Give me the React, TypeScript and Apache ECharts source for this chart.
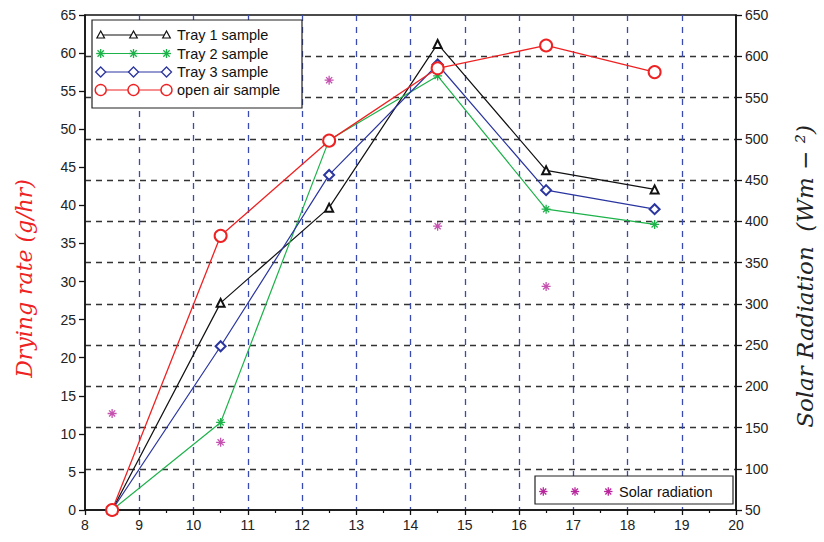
import React, { useEffect, useRef } from "react";
import * as echarts from "echarts";

const hours = [8.5, 10.5, 12.5, 14.5, 16.5, 18.5];
const tray1 = [0, 27.2, 39.7, 61.2, 44.6, 42.1];
const tray2 = [0, 11.5, 48.6, 57.0, 39.5, 37.5];
const tray3 = [0, 21.5, 44.0, 58.5, 42.0, 39.5];
const openAir = [0, 36.0, 48.5, 58.0, 61.0, 57.5];
const solarHours = [8.5, 10.5, 12.5, 14.5, 16.5];
const solar = [167, 132, 571, 394, 321];

const seriesNames = ["Tray 1 sample", "Tray 2 sample", "Tray 3 sample", "open air sample"];
const solarName = "Solar radiation";

const BLACK = "#111111";
const GREEN = "#1db24a";
const BLUE = "#2a35a0";
const RED = "#ee2222";
const MAGENTA = "#b8279c";

const ASTERISK = "path://M5,0L5,10M0,5L10,5M1.6,1.6L8.4,8.4M1.6,8.4L8.4,1.6";

const pairs = (xs: number[], ys: number[]) => xs.map((x, i) => [x, ys[i]]);

function asteriskGraphic(cx: number, cy: number, r: number, color: string) {
  const d = r * 0.707;
  const segs = [
    [0, -r, 0, r],
    [-r, 0, r, 0],
    [-d, -d, d, d],
    [-d, d, d, -d],
  ];
  return {
    type: "group",
    z: 101,
    children: segs.map((s) => ({
      type: "line",
      z: 101,
      shape: { x1: cx + s[0], y1: cy + s[1], x2: cx + s[2], y2: cy + s[3] },
      style: { stroke: color, lineWidth: 1.3 },
    })),
  };
}

function markerGraphic(kind: string, cx: number, cy: number) {
  if (kind === "tri") {
    return {
      type: "polygon",
      z: 101,
      shape: { points: [[cx, cy - 4], [cx - 3.8, cy + 3], [cx + 3.8, cy + 3]] },
      style: { fill: "#fff", stroke: BLACK, lineWidth: 1.2 },
    };
  }
  if (kind === "ast") return asteriskGraphic(cx, cy, 4.5, GREEN);
  if (kind === "dia") {
    return {
      type: "polygon",
      z: 101,
      shape: { points: [[cx, cy - 5], [cx + 5, cy], [cx, cy + 5], [cx - 5, cy]] },
      style: { fill: "#fff", stroke: BLUE, lineWidth: 1.3 },
    };
  }
  return {
    type: "circle",
    z: 101,
    shape: { cx, cy, r: 5.5 },
    style: { fill: "#fff", stroke: RED, lineWidth: 1.4 },
  };
}

export default function App() {
  const ref = useRef<HTMLDivElement>(null);

  useEffect(() => {
    document.body.style.margin = "0";
    if (!ref.current) return;
    const chart = echarts.init(ref.current, null, { renderer: "svg" });

    const labelFont = { fontFamily: "Liberation Sans, Arial, sans-serif", fontSize: 14, color: "#222" };

    const legendRows = [
      { name: seriesNames[0], color: BLACK, kind: "tri" },
      { name: seriesNames[1], color: GREEN, kind: "ast" },
      { name: seriesNames[2], color: BLUE, kind: "dia" },
      { name: seriesNames[3], color: RED, kind: "circ" },
    ];
    const rowY = [35, 53.5, 72, 90];
    const mx = [100.7, 133.5, 166.5];
    const legendEls: any[] = [
      {
        type: "rect",
        z: 100,
        shape: { x: 92, y: 20, width: 210, height: 88 },
        style: { fill: "#fff", stroke: "#222", lineWidth: 1.2 },
      },
    ];
    legendRows.forEach((r, i) => {
      const y = rowY[i];
      legendEls.push({
        type: "line",
        z: 101,
        shape: { x1: mx[0], y1: y, x2: mx[2], y2: y },
        style: { stroke: r.color, lineWidth: 1.2 },
      });
      mx.forEach((x) => legendEls.push(markerGraphic(r.kind, x, y)));
      legendEls.push({
        type: "text",
        z: 101,
        x: 177,
        y,
        style: {
          text: r.name,
          fill: "#111",
          font: "14.5px 'Liberation Sans', Arial, sans-serif",
          verticalAlign: "middle",
          align: "left",
        },
      });
    });
    legendEls.push({
      type: "rect",
      z: 100,
      shape: { x: 535, y: 476, width: 198, height: 28 },
      style: { fill: "#fff", stroke: "#222", lineWidth: 1.2 },
    });
    [543.3, 575, 608.3].forEach((x) => legendEls.push(asteriskGraphic(x, 491.5, 4.2, MAGENTA)));
    legendEls.push({
      type: "text",
      z: 101,
      x: 619,
      y: 491.5,
      style: {
        text: solarName,
        fill: "#111",
        font: "14.5px 'Liberation Sans', Arial, sans-serif",
        verticalAlign: "middle",
        align: "left",
      },
    });

    const titleFont = "DejaVu Serif, Liberation Serif, serif";

    chart.setOption({
      animation: false,
      backgroundColor: "#fff",
      grid: {
        left: 85,
        right: 83,
        top: 15,
        bottom: 32,
        show: true,
        borderColor: "#111",
        borderWidth: 1.5,
        backgroundColor: "transparent",
      },
      xAxis: {
        type: "value",
        min: 8,
        max: 20,
        interval: 1,
        axisLine: { show: true, lineStyle: { color: "#111", width: 1.5 } },
        axisTick: { show: true, inside: false, length: 5, lineStyle: { color: "#111", width: 1.3 } },
        minorTick: { show: true, splitNumber: 2, length: 3, lineStyle: { color: "#111", width: 1.2 } },
        axisLabel: { ...labelFont, margin: 8 },
        splitLine: {
          show: true,
          showMinLine: false,
          showMaxLine: false,
          lineStyle: { color: "#3a4bb0", type: [6, 6], width: 1.3 },
        },
      },
      yAxis: [
        {
          type: "value",
          position: "left",
          min: 0,
          max: 65,
          interval: 5,
          axisLine: { show: true, lineStyle: { color: "#111", width: 1.5 } },
          axisTick: { show: true, inside: false, length: 6, lineStyle: { color: "#111", width: 1.3 } },
          axisLabel: { ...labelFont, margin: 9 },
          splitLine: { show: false },
          name: "Drying rate (g/hr)",
          nameLocation: "middle",
          nameRotate: 90,
          nameGap: 50,
          nameTextStyle: {
            color: RED,
            fontFamily: titleFont,
            fontStyle: "italic",
            fontSize: 22,
            padding: [0, 32, 0, 0],
          },
        },
        {
          type: "value",
          position: "right",
          min: 50,
          max: 650,
          interval: 50,
          axisLine: { show: true, lineStyle: { color: "#111", width: 1.5 } },
          axisTick: { show: true, inside: false, length: 6, lineStyle: { color: "#111", width: 1.3 } },
          axisLabel: { ...labelFont, margin: 9 },
          splitLine: {
            show: true,
            showMinLine: false,
            showMaxLine: false,
            lineStyle: { color: "#333", type: [6, 5], width: 1.3 },
          },
          name: "Solar Radiation  (Wm − ²)",
          nameLocation: "middle",
          nameRotate: 90,
          nameGap: 57,
          nameTextStyle: {
            color: "#222",
            fontFamily: titleFont,
            fontStyle: "italic",
            fontSize: 23,
            padding: [0, 28, 0, 0],
          },
        },
      ],
      graphic: { elements: legendEls },
      series: [
        {
          name: seriesNames[0],
          type: "line",
          yAxisIndex: 0,
          data: pairs(hours, tray1),
          symbol: "emptyTriangle",
          symbolSize: 8,
          lineStyle: { color: BLACK, width: 1.2 },
          itemStyle: { color: BLACK, borderWidth: 1.2 },
          z: 3,
        },
        {
          name: seriesNames[1],
          type: "line",
          yAxisIndex: 0,
          data: pairs(hours, tray2),
          symbol: ASTERISK,
          symbolSize: 9,
          lineStyle: { color: GREEN, width: 1.2 },
          itemStyle: { color: GREEN, borderColor: GREEN, borderWidth: 1.3 },
          z: 3,
        },
        {
          name: seriesNames[2],
          type: "line",
          yAxisIndex: 0,
          data: pairs(hours, tray3),
          symbol: "emptyDiamond",
          symbolSize: 10,
          lineStyle: { color: BLUE, width: 1.2 },
          itemStyle: { color: BLUE, borderWidth: 1.3 },
          z: 3,
        },
        {
          name: seriesNames[3],
          type: "line",
          yAxisIndex: 0,
          data: pairs(hours, openAir),
          symbol: "emptyCircle",
          symbolSize: 12,
          lineStyle: { color: RED, width: 1.3 },
          itemStyle: { color: RED, borderWidth: 1.5 },
          z: 4,
        },
        {
          name: solarName,
          type: "scatter",
          yAxisIndex: 1,
          data: pairs(solarHours, solar),
          symbol: ASTERISK,
          symbolSize: 9,
          itemStyle: { color: MAGENTA, borderColor: MAGENTA, borderWidth: 1.3 },
          z: 3,
        },
      ],
    });

    return () => chart.dispose();
  }, []);

  return <div ref={ref} style={{ width: 824, height: 542 }} />;
}
